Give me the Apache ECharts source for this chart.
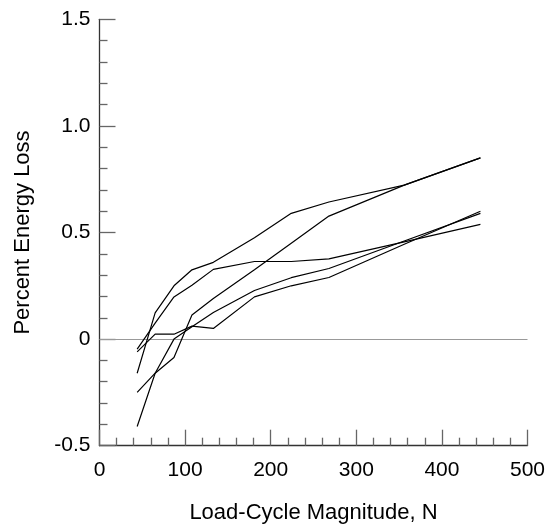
<!DOCTYPE html>
<html>
<head>
<meta charset="utf-8">
<script src="https://cdn.jsdelivr.net/npm/echarts@6/dist/echarts.min.js"></script>
<style>html,body{margin:0;padding:0;background:#fff}#c{width:552px;height:524px}</style>
</head>
<body>
<div id="c"></div>
<script>
// Load-cycle magnitudes (N)
const loads = [44, 65, 87, 108, 133, 181, 224, 268, 356, 445];
// Percent energy loss, five specimens
const spec1 = [-0.16, 0.123, 0.25, 0.325, 0.36, 0.475, 0.59, 0.643, 0.722, 0.85];
const spec2 = [-0.25, -0.16, -0.086, 0.113, 0.19, 0.325, 0.45, 0.577, 0.722, 0.85];
const spec3 = [-0.41, -0.16, 0.0, 0.058, 0.125, 0.228, 0.288, 0.331, 0.46, 0.59];
const spec4 = [-0.06, 0.023, 0.023, 0.061, 0.05, 0.198, 0.25, 0.289, 0.445, 0.6];
const spec5 = [-0.047, 0.075, 0.198, 0.253, 0.327, 0.364, 0.364, 0.376, 0.456, 0.538];
const allSpecs = [spec1, spec2, spec3, spec4, spec5];
const xTicks = [0, 100, 200, 300, 400, 500];
const yTicks = [-0.5, 0, 0.5, 1.0, 1.5];
const xTitle = 'Load-Cycle Magnitude, N';
const yTitle = 'Percent Energy Loss';

const chart = echarts.init(document.getElementById('c'), null, {renderer: 'canvas'});
const font = 'Liberation Sans, Arial, Helvetica, sans-serif';
const series = allSpecs.map((vals, i) => ({
  type: 'line',
  data: loads.map((x, j) => [x, vals[j]]),
  showSymbol: false,
  symbol: 'none',
  lineStyle: {color: '#000', width: 1.2},
  z: 3,
  markLine: i === 0 ? {
    silent: true,
    symbol: ['none', 'none'],
    label: {show: false},
    lineStyle: {color: '#999', width: 1, type: 'solid'},
    data: [{yAxis: 0}],
    z: 1
  } : undefined
}));

chart.setOption({
  animation: false,
  backgroundColor: '#fff',
  grid: {left: 99.5, right: 24.5, top: 19.3, bottom: 78.3, containLabel: false, outerBoundsMode: 'none'},
  xAxis: {
    type: 'value',
    min: xTicks[0], max: xTicks[xTicks.length - 1], interval: 100,
    name: xTitle, nameLocation: 'middle', nameGap: 56,
    nameTextStyle: {fontFamily: font, fontSize: 22, color: '#000'},
    axisLine: {show: true, onZero: false, lineStyle: {color: '#333', width: 1.3}},
    axisTick: {show: true, inside: true, length: 16, lineStyle: {color: '#666', width: 1.3}},
    minorTick: {show: true, splitNumber: 5, length: 8, lineStyle: {color: '#666', width: 1.3}},
    splitLine: {show: false},
    axisLabel: {fontFamily: font, fontSize: 21, color: '#000', margin: 14}
  },
  yAxis: {
    type: 'value',
    min: yTicks[0], max: yTicks[yTicks.length - 1], interval: 0.5,
    name: yTitle, nameLocation: 'middle', nameGap: 66, nameRotate: 90,
    nameTextStyle: {fontFamily: font, fontSize: 22, color: '#000'},
    axisLine: {show: true, onZero: false, lineStyle: {color: '#333', width: 1.3}},
    axisTick: {show: true, inside: true, length: 16, lineStyle: {color: '#666', width: 1.3}},
    minorTick: {show: true, splitNumber: 5, length: 8, lineStyle: {color: '#666', width: 1.3}},
    splitLine: {show: false},
    axisLabel: {fontFamily: font, fontSize: 21, color: '#000', margin: 9,
      formatter: v => (v === 0 ? '0' : v.toFixed(1))}
  },
  series: series
});
</script>
</body>
</html>
